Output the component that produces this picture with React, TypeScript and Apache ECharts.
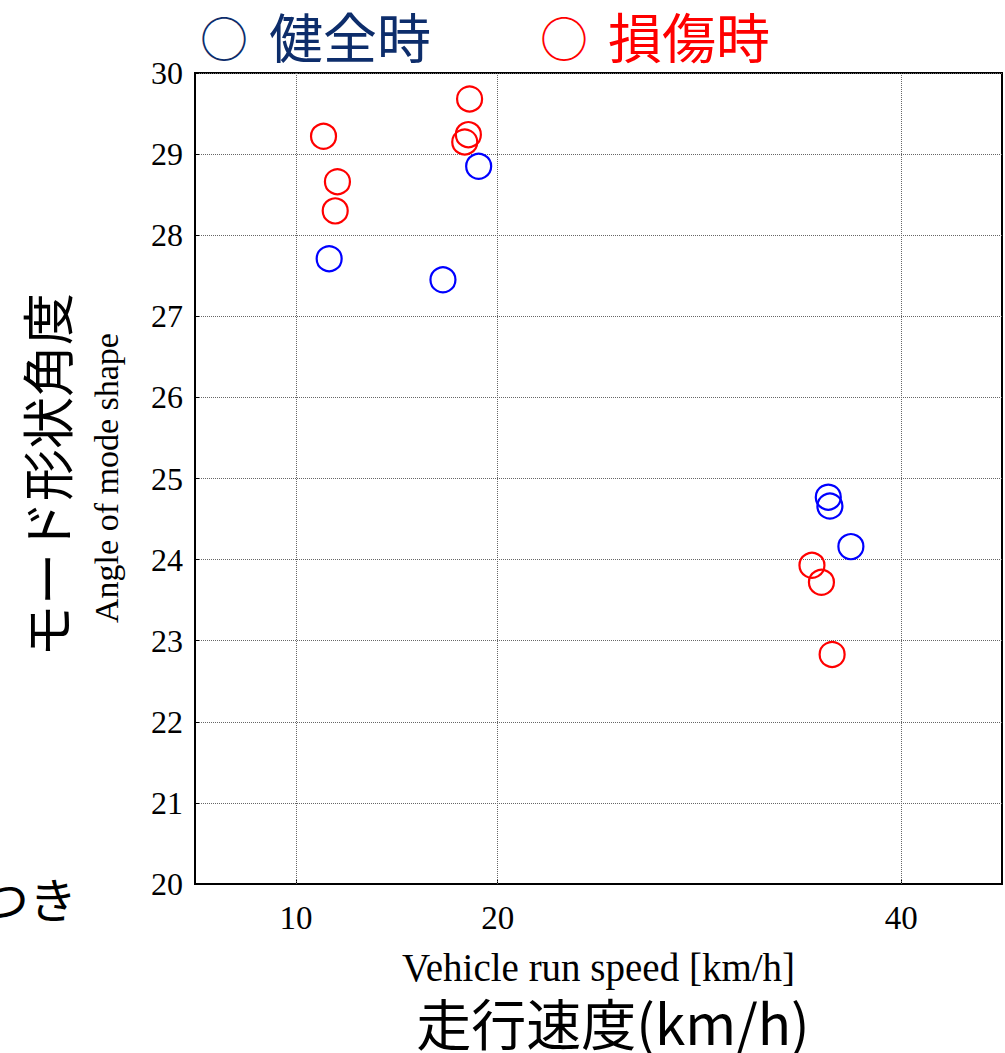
import React, { useEffect, useRef } from "react";
import * as echarts from "echarts";

const healthyX = [19.06, 11.65, 17.29, 36.39, 36.47, 37.51];
const healthyY = [28.85, 27.71, 27.45, 24.77, 24.66, 24.16];
const damagedX = [18.61, 11.37, 18.55, 18.37, 12.06, 11.95, 35.58, 36.05, 36.58];
const damagedY = [29.68, 29.22, 29.24, 29.15, 28.66, 28.3, 23.93, 23.72, 22.83];
const xTicks = [10, 20, 40];
const legendNames = ["健全時", "損傷時"];

const SERIF = "'Liberation Serif', 'DejaVu Serif', serif";
const CJK = "'Noto Sans CJK JP', 'Noto Sans', sans-serif";

export default function App() {
  const ref = useRef<HTMLDivElement>(null);
  useEffect(() => {
    document.body.style.margin = "0";
    if (!ref.current) return;
    const chart = echarts.init(ref.current, null, { renderer: "svg" });
    const pairs = (xs: number[], ys: number[]) => xs.map((x, i) => [x, ys[i]]);
    chart.setOption({
      animation: false,
      backgroundColor: "#fff",
      grid: {
        left: 195,
        right: 3,
        top: 73,
        bottom: 169,
        show: true,
        borderColor: "#000",
        borderWidth: 2,
      },
      xAxis: {
        type: "value",
        min: 5,
        max: 45,
        interval: 5,
        axisLine: { show: true, lineStyle: { color: "#000", width: 2 } },
        axisTick: { show: true, inside: true, length: 4, customValues: xTicks, lineStyle: { color: "#000" } },
        splitLine: { show: false },
        axisLabel: {
          customValues: xTicks,
          fontFamily: SERIF,
          fontSize: 33,
          color: "#000",
          margin: 17,
        },
        name: "Vehicle run speed [km/h]",
        nameLocation: "middle",
        nameGap: 64,
        nameTextStyle: { fontFamily: SERIF, fontSize: 39, color: "#000" },
      },
      yAxis: {
        type: "value",
        min: 20,
        max: 30,
        interval: 1,
        axisLine: { show: true, lineStyle: { color: "#000", width: 2 } },
        axisTick: { show: true, inside: true, length: 4, lineStyle: { color: "#000" } },
        splitLine: { show: true, lineStyle: { color: "#666", type: [1, 1], width: 1 } },
        axisLabel: { fontFamily: SERIF, fontSize: 32, color: "#000", margin: 12 },
      },
      series: [
        {
          type: "scatter",
          name: legendNames[0],
          data: pairs(healthyX, healthyY),
          symbol: "circle",
          symbolSize: 25,
          itemStyle: { color: "rgba(0,0,0,0)", borderColor: "#0000ff", borderWidth: 2.2, opacity: 1 },
          z: 3,
          markLine: {
            silent: true,
            symbol: "none",
            label: { show: false },
            lineStyle: { color: "#666", type: [1, 1], width: 1 },
            data: xTicks.map((v) => ({ xAxis: v })),
          },
        },
        {
          type: "scatter",
          name: legendNames[1],
          data: pairs(damagedX, damagedY),
          symbol: "circle",
          symbolSize: 25,
          itemStyle: { color: "rgba(0,0,0,0)", borderColor: "#ff0000", borderWidth: 2.2, opacity: 1 },
          z: 3,
        },
      ],
      graphic: [
        {
          type: "text",
          x: 224,
          y: 36,
          style: { text: "○", fontFamily: CJK, fontSize: 48, fill: "#0d2d6b", align: "center", verticalAlign: "middle" },
        },
        {
          type: "text",
          x: 269,
          y: 35,
          style: { text: legendNames[0], fontFamily: CJK, fontSize: 54, fill: "#0d2d6b", verticalAlign: "middle" },
        },
        {
          type: "text",
          x: 564,
          y: 36,
          style: { text: "○", fontFamily: CJK, fontSize: 48, fill: "#ff0000", align: "center", verticalAlign: "middle" },
        },
        {
          type: "text",
          x: 608,
          y: 35,
          style: { text: legendNames[1], fontFamily: CJK, fontSize: 54, fill: "#ff0000", verticalAlign: "middle" },
        },
        {
          type: "text",
          x: 45,
          y: 475,
          rotation: Math.PI / 2,
          style: {
            text: "モード形状角度",
            fontFamily: CJK,
            fontSize: 52,
            fill: "#000",
            align: "center",
            verticalAlign: "middle",
          },
        },
        {
          type: "text",
          x: 106,
          y: 478,
          rotation: Math.PI / 2,
          style: {
            text: "Angle of mode shape",
            fontFamily: SERIF,
            fontSize: 34,
            fill: "#000",
            align: "center",
            verticalAlign: "middle",
          },
        },
        {
          type: "text",
          x: 613,
          y: 1021,
          style: {
            text: "走行速度(km/h)",
            fontFamily: CJK,
            fontSize: 55,
            fill: "#000",
            align: "center",
            verticalAlign: "middle",
          },
        },
        {
          type: "text",
          x: 77,
          y: 897,
          style: {
            text: "つき",
            fontFamily: CJK,
            fontSize: 48,
            fill: "#000",
            align: "right",
            verticalAlign: "middle",
          },
        },
      ],
    });
    return () => chart.dispose();
  }, []);
  return <div ref={ref} style={{ width: 1005, height: 1053 }} />;
}
